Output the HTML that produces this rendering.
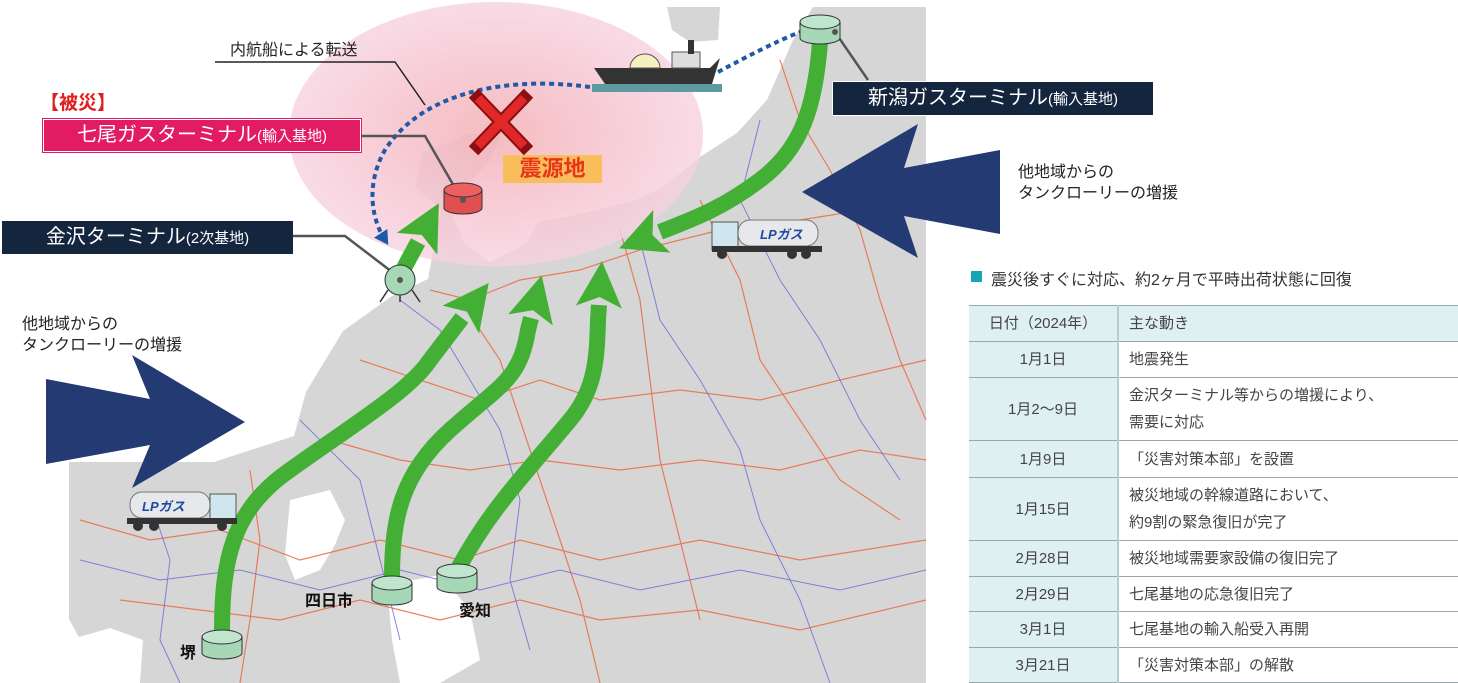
<!DOCTYPE html>
<html><head><meta charset="utf-8">
<style>
html,body{margin:0;padding:0;background:#fff;}
body{width:1458px;height:683px;position:relative;overflow:hidden;font-family:"Liberation Sans","Noto Sans CJK JP",sans-serif;}
svg{position:absolute;left:0;top:0;}
.t{position:absolute;white-space:nowrap;}
table{position:absolute;left:969px;top:305px;width:489px;border-collapse:collapse;font-size:15px;color:#444;font-family:"Liberation Sans","Noto Sans CJK JP",sans-serif;}
td{border-top:1.5px solid #9aa;border-bottom:1.5px solid #9aa;padding:0 10px;line-height:27px;}
td.c1{background:#dff0f2;text-align:center;width:128px;border-right:2px solid #bcc;}
td.c2{background:#fff;}
tr.h td{background:#dff0f2;text-align:left;}
tr.h td.c1{text-align:center;}
</style></head><body>
<svg width="1458" height="683" viewBox="0 0 1458 683">
<defs>
<radialGradient id="pk" cx="50%" cy="50%" r="50%">
<stop offset="0" stop-color="#f4b4b8" stop-opacity="0.9"/>
<stop offset="0.6" stop-color="#f6c6d2" stop-opacity="0.85"/>
<stop offset="1" stop-color="#f7d2e0" stop-opacity="0.8"/>
</radialGradient>
<marker id="ga" markerUnits="userSpaceOnUse" markerWidth="50" markerHeight="50" refX="2" refY="25" orient="auto"><path d="M0,2 L46,25 L0,48 L10,25 Z" fill="#43b035"/></marker>
<marker id="ba" markerUnits="userSpaceOnUse" markerWidth="16" markerHeight="16" refX="8" refY="8" orient="auto"><path d="M0,0 L14,8 L0,16 Z" fill="#1f5aa8"/></marker>
</defs>
<!-- land -->
<path d="M667,7 L720,7 L718,40 L690,42 L672,30 Z" fill="#d6d6d6"/>
<path d="M813,7 L926,7 L926,683 L104,683 L69,619 L69,462 L214,462 L294,436 L306,392 L343,331 L392,296 L428,279 L441,209 L416,187 L422,153 L465,135 L502,131 L490,161 L465,187 L453,218 L465,244 L490,262 L526,244 L539,222 L581,214 L636,200 L663,187 L700,157 L737,133 L767,100 L793,40 Z" fill="#d6d6d6"/>
<path d="M290,500 L330,490 L345,520 L335,545 L320,570 L295,580 L285,555 Z" fill="#fff"/>
<path d="M387,585 L440,575 L470,610 L480,660 L440,683 L400,683 L392,640 Z" fill="#fff"/>
<path d="M69,640 L110,628 L143,640 L140,683 L104,683 Z" fill="#fff"/>
<!-- roads -->
<g fill="none" stroke="#e8734e" stroke-width="1.2" opacity="0.9">
<path d="M80,520 L150,540 L220,530 L300,560 L380,540 L460,560 L520,540 L600,560 L700,540 L800,560 L926,540"/>
<path d="M120,600 L200,610 L280,620 L360,600 L440,620 L520,600 L600,620 L700,610 L800,630 L926,600"/>
<path d="M460,300 L500,360 L520,420 L540,480 L560,540 L580,600 L600,683"/>
<path d="M620,230 L640,300 L650,380 L660,460 L680,540 L700,620"/>
<path d="M700,200 L740,280 L760,360 L800,420 L840,480 L900,520"/>
<path d="M430,290 L470,300 L520,280 L580,270 L640,250 L720,230 L800,220 L926,200"/>
<path d="M360,360 L420,380 L480,400 L540,380 L600,400 L680,390 L760,400 L840,380 L926,360"/>
<path d="M330,440 L400,460 L470,470 L540,460 L620,470 L700,460 L780,470 L860,450 L926,460"/>
<path d="M780,60 L800,120 L830,170 L860,230 L880,300 L900,360 L926,420"/>
<path d="M250,470 L260,540 L250,620 L240,683"/>
</g>
<g fill="none" stroke="#6a6ad8" stroke-width="1" opacity="0.8">
<path d="M80,560 L160,580 L240,570 L320,590 L400,570 L480,590 L560,570 L640,590 L740,570 L840,590 L926,570"/>
<path d="M400,300 L440,330 L470,380 L500,430 L520,500 L510,580 L530,650"/>
<path d="M640,240 L660,320 L700,380 L740,450 L760,520 L800,600 L830,683"/>
<path d="M760,120 L740,200 L780,280 L820,340 L860,420 L900,480"/>
<path d="M300,420 L360,480 L380,560 L400,640"/>
<path d="M150,500 L170,560 L160,640 L180,683"/>
</g>
<!-- pink quake zone -->
<ellipse cx="496" cy="134" rx="207" ry="132" fill="url(#pk)"/>
<!-- navy arrows -->
<path d="M802,192 L918,124 L904,168 L1000,150 L1000,234 L904,216 L918,258 Z" fill="#243a73"/>
<path d="M245,422 L132,355 L150,399 L46,379 L46,464 L150,445 L132,488 Z" fill="#243a73"/>
<!-- green arrows -->
<g fill="none" stroke="#43b035" stroke-width="16" stroke-linejoin="round">
<path d="M222,632 C222,560 232,510 290,470 C360,420 410,390 430,360 L462,318" marker-end="url(#ga)"/>
<path d="M392,580 C392,520 400,475 450,430 C500,385 520,380 528,330 L531,318" marker-end="url(#ga)"/>
<path d="M459,567 C490,510 520,480 570,420 C595,390 597,360 598,320 L599,305" marker-end="url(#ga)"/>
<path d="M404,268 L418,242" marker-end="url(#ga)"/>
<path d="M820,42 C815,110 800,150 760,180 C720,210 690,220 660,232" marker-end="url(#ga)"/>
</g>
<!-- dotted ship routes -->
<path d="M590,87 C500,75 420,95 385,150 C365,185 372,220 385,240" fill="none" stroke="#1f5aa8" stroke-width="4" stroke-dasharray="5,4" marker-end="url(#ba)"/>
<path d="M718,72 C750,55 775,42 800,32" fill="none" stroke="#1f5aa8" stroke-width="4" stroke-dasharray="5,4"/>
<!-- ship -->
<rect x="592" y="84" width="130" height="8" fill="#5f9aa0"/>
<path d="M594,68 L710,68 L720,58 L712,84 L605,84 Z" fill="#333"/>
<path d="M630,68 A15,14 0 0 1 660,68 Z" fill="#f5f0c0" stroke="#555"/>
<rect x="672" y="52" width="28" height="16" fill="#ddd" stroke="#555"/>
<rect x="688" y="40" width="6" height="14" fill="#333"/>
<!-- X -->
<g stroke="#8a1010" stroke-width="13" stroke-linecap="square"><line x1="478" y1="98" x2="524" y2="146"/><line x1="524" y1="98" x2="478" y2="146"/></g>
<g stroke="#e02828" stroke-width="9"><line x1="478" y1="98" x2="524" y2="146"/><line x1="524" y1="98" x2="478" y2="146"/></g>
<!-- leader lines -->
<g fill="none" stroke="#555" stroke-width="2.5">
<path d="M362,136 L425,136 L462,200"/>
<path d="M293,236 L345,236 L400,278"/>
<path d="M835,32 L868,80"/>
</g>
<path d="M215,62 L395,62 L425,105" fill="none" stroke="#222" stroke-width="1.5"/>
<!-- tanks -->
<g stroke="#333" stroke-width="1">
<path d="M444,190 L444,208 A19,6 0 0 0 482,208 L482,190 Z" fill="#e05050"/>
<ellipse cx="463" cy="190" rx="19" ry="7" fill="#ee6060"/>
<circle cx="400" cy="280" r="15" fill="#a6d8b8"/>
<path d="M800,22 L800,38 A20,6 0 0 0 840,38 L840,22 Z" fill="#a6d8b8"/>
<ellipse cx="820" cy="22" rx="20" ry="7" fill="#bfe6cc"/>
<path d="M202,637 L202,653 A20,6 0 0 0 242,653 L242,637 Z" fill="#a6d8b8"/>
<ellipse cx="222" cy="637" rx="20" ry="7" fill="#bfe6cc"/>
<path d="M372,583 L372,599 A20,6 0 0 0 412,599 L412,583 Z" fill="#a6d8b8"/>
<ellipse cx="392" cy="583" rx="20" ry="7" fill="#bfe6cc"/>
<path d="M437,571 L437,587 A20,6 0 0 0 477,587 L477,571 Z" fill="#a6d8b8"/>
<ellipse cx="457" cy="571" rx="20" ry="7" fill="#bfe6cc"/>
</g>
<g stroke="#333" stroke-width="1.5"><line x1="388" y1="290" x2="380" y2="302"/><line x1="412" y1="290" x2="420" y2="302"/><line x1="400" y1="295" x2="400" y2="302"/></g>
<circle cx="400" cy="280" r="3" fill="#555"/><circle cx="463" cy="200" r="3" fill="#555"/><circle cx="835" cy="32" r="3" fill="#555"/>
<!-- trucks -->
<g>
<rect x="738" y="220" width="80" height="26" rx="12" fill="#e6e8ec" stroke="#777"/>
<text x="760" y="239" font-size="13" font-weight="bold" font-style="italic" fill="#1f4aa0" font-family="Liberation Sans,Noto Sans CJK JP,sans-serif">LPガス</text>
<rect x="712" y="222" width="26" height="28" fill="#cfe6ee" stroke="#555"/>
<rect x="712" y="246" width="110" height="6" fill="#333"/>
<circle cx="722" cy="254" r="5" fill="#333"/><circle cx="792" cy="254" r="5" fill="#333"/><circle cx="806" cy="254" r="5" fill="#333"/>
<rect x="130" y="492" width="80" height="26" rx="12" fill="#e6e8ec" stroke="#777"/>
<text x="142" y="511" font-size="13" font-weight="bold" font-style="italic" fill="#1f4aa0" font-family="Liberation Sans,Noto Sans CJK JP,sans-serif">LPガス</text>
<rect x="210" y="494" width="26" height="28" fill="#cfe6ee" stroke="#555"/>
<rect x="127" y="518" width="110" height="6" fill="#333"/>
<circle cx="138" cy="526" r="5" fill="#333"/><circle cx="154" cy="526" r="5" fill="#333"/><circle cx="222" cy="526" r="5" fill="#333"/>
</g>
<rect x="971" y="271" width="11" height="11" fill="#16a5b5"/>
</svg>

<div class="t" style="left:230px;top:36px;font-size:16px;color:#222;">内航船による転送</div>
<div class="t" style="left:40px;top:88px;font-size:19px;font-weight:bold;color:#e02020;">【被災】</div>
<div class="t" style="left:43px;top:119px;width:316px;height:31px;background:#e21c63;border:1.5px solid #fff;outline:1px solid #e21c63;color:#fff;font-size:20px;line-height:31px;text-align:center;">七尾ガスターミナル<span style="font-size:15px">(輸入基地)</span></div>
<div class="t" style="left:503px;top:155px;width:99px;height:28px;background:#f9be5c;color:#e8341c;font-size:22px;font-weight:bold;line-height:28px;text-align:center;">震源地</div>
<div class="t" style="left:2px;top:221px;width:291px;height:33px;background:#14263e;color:#fff;font-size:20px;line-height:33px;text-align:center;">金沢ターミナル<span style="font-size:15px">(2次基地)</span></div>
<div class="t" style="left:832px;top:81px;width:320px;height:33px;background:#14263e;border:1px solid #fff;color:#fff;font-size:20px;line-height:33px;text-align:center;">新潟ガスターミナル<span style="font-size:15px">(輸入基地)</span></div>
<div class="t" style="left:22px;top:314px;font-size:16px;line-height:21px;color:#222;">他地域からの<br>タンクローリーの増援</div>
<div class="t" style="left:1018px;top:162px;font-size:16px;line-height:21px;color:#222;">他地域からの<br>タンクローリーの増援</div>
<div class="t" style="left:180px;top:639px;font-size:16px;font-weight:bold;color:#111;">堺</div>
<div class="t" style="left:305px;top:587px;font-size:16px;font-weight:bold;color:#111;">四日市</div>
<div class="t" style="left:459px;top:597px;font-size:16px;font-weight:bold;color:#111;">愛知</div>
<div class="t" style="left:991px;top:266px;font-size:16px;color:#333;">震災後すぐに対応、約2ヶ月で平時出荷状態に回復</div>

<table>
<tr class="h" style="height:36px"><td class="c1">日付（2024年）</td><td class="c2" style="background:#dff0f2">主な動き</td></tr>
<tr style="height:36px"><td class="c1">1月1日</td><td class="c2">地震発生</td></tr>
<tr style="height:63px"><td class="c1">1月2～9日</td><td class="c2">金沢ターミナル等からの増援により、<br>需要に対応</td></tr>
<tr style="height:37px"><td class="c1">1月9日</td><td class="c2">「災害対策本部」を設置</td></tr>
<tr style="height:63px"><td class="c1">1月15日</td><td class="c2">被災地域の幹線道路において、<br>約9割の緊急復旧が完了</td></tr>
<tr style="height:36px"><td class="c1">2月28日</td><td class="c2">被災地域需要家設備の復旧完了</td></tr>
<tr style="height:35px"><td class="c1">2月29日</td><td class="c2">七尾基地の応急復旧完了</td></tr>
<tr style="height:36px"><td class="c1">3月1日</td><td class="c2">七尾基地の輸入船受入再開</td></tr>
<tr style="height:35px"><td class="c1">3月21日</td><td class="c2">「災害対策本部」の解散</td></tr>
</table>
</body></html>
